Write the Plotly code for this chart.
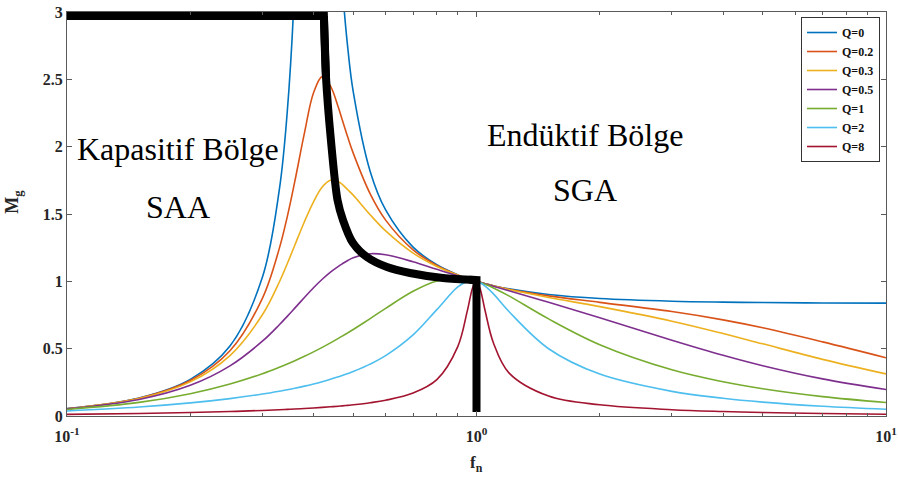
import plotly.graph_objects as go

# normalized frequency samples
fn = [0.1, 0.15, 0.2, 0.25, 0.3, 0.33, 0.345, 0.36, 0.38, 0.4,
      0.42, 0.44, 0.46, 0.47, 0.485, 0.5, 0.55, 0.6, 0.7, 0.8,
      0.9, 0.95, 0.98, 1.0, 1.02, 1.05, 1.1, 1.2, 1.5, 2,
      3, 4, 5, 7, 10]

m_q0 = [0.0547, 0.1339, 0.2719, 0.5198, 1.030, 1.681, 2.257, 3.236, 6.45, 40.0,
        11.1, 5.32, 3.652, 3.199, 2.731, 2.408, 1.816, 1.530, 1.254, 1.123,
        1.048, 1.021, 1.008, 1.0, 0.9925, 0.9821, 0.9672, 0.9438, 0.9022, 0.8724,
        0.8523, 0.8455, 0.8423, 0.8396, 0.8382]
m_q02 = [0.0543, 0.1319, 0.2631, 0.4842, 0.8734, 1.2446, 1.479, 1.742, 2.10, 2.40,
         2.52, 2.45, 2.29, 2.20, 2.07, 1.952, 1.650, 1.4546, 1.234, 1.1174,
         1.0469, 1.0212, 1.0080, 1.0, 0.9924, 0.9819, 0.9665, 0.9415, 0.8921, 0.8440,
         0.7759, 0.7140, 0.6550, 0.5505, 0.4326]
m_q03 = [0.0539, 0.1295, 0.2532, 0.4487, 0.7515, 0.9950, 1.1301, 1.2682, 1.4426, 1.59,
         1.70, 1.75, 1.74, 1.72, 1.68, 1.64, 1.4942, 1.3742, 1.2097, 1.1104,
         1.0456, 1.0210, 1.0080, 1.0, 0.9924, 0.9817, 0.9657, 0.9387, 0.8801, 0.8120,
         0.7042, 0.6126, 0.5358, 0.4207, 0.3124]
m_q05 = [0.0528, 0.1227, 0.2277, 0.3722, 0.5553, 0.6778, 0.7399, 0.8013, 0.8798, 0.9521,
         1.0155, 1.0688, 1.1115, 1.13, 1.155, 1.175, 1.205, 1.197, 1.145, 1.0889,
         1.0416, 1.0201, 1.0079, 1.0, 0.9922, 0.9810, 0.9631, 0.9299, 0.8445, 0.7300,
         0.5630, 0.4511, 0.3735, 0.2755, 0.1964]
m_q1 = [0.0481, 0.1009, 0.1654, 0.2373, 0.3140, 0.3617, 0.3858, 0.4102, 0.4430, 0.4762,
        0.5094, 0.5427, 0.5761, 0.5927, 0.6177, 0.6425, 0.7233, 0.7992, 0.9259, 1.0024,
        1.0231, 1.0159, 1.0072, 1.0, 0.9917, 0.9777, 0.9511, 0.8918, 0.7211, 0.5297,
        0.3432, 0.2543, 0.2022, 0.1437, 0.1003]
m_q2 = [0.0371, 0.0666, 0.0973, 0.1292, 0.1628, 0.1841, 0.1951, 0.2064, 0.2219, 0.2381,
        0.2549, 0.2724, 0.2908, 0.3002, 0.3150, 0.3302, 0.3853, 0.4481, 0.6020, 0.7899,
        0.9583, 0.9997, 1.0047, 1.0, 0.9894, 0.9646, 0.9073, 0.7760, 0.4996, 0.3114,
        0.1831, 0.1317, 0.1034, 0.0726, 0.0504]
m_q8 = [0.0123, 0.0190, 0.0259, 0.0333, 0.0412, 0.0463, 0.0489, 0.0517, 0.0555, 0.0595,
        0.0637, 0.0682, 0.0729, 0.0754, 0.0792, 0.0833, 0.0984, 0.1168, 0.1700, 0.2697,
        0.5155, 0.7827, 0.9584, 1.0, 0.9467, 0.7793, 0.5422, 0.3206, 0.1480, 0.0830,
        0.0468, 0.0333, 0.0260, 0.0182, 0.0126]

series_names = ["Q=0", "Q=0.2", "Q=0.3", "Q=0.5", "Q=1", "Q=2", "Q=8"]
series_vals = [m_q0, m_q02, m_q03, m_q05, m_q1, m_q2, m_q8]
colors = ["#0072BD", "#D95319", "#EDB120", "#7E2F8E", "#77AC30", "#4DBEEE", "#A2142F"]

# region boundary (thick black line): top edge, curved part, vertical drop
border_top_fn = [0.1, 0.424, 0.429]
border_top_m = [2.97, 2.97, 2.517]
border_curve_fn = [0.424, 0.429, 0.441, 0.4577, 0.472, 0.4993, 0.540, 0.6045, 0.688, 0.828, 1.0]
border_curve_m = [2.97, 2.517, 2.05, 1.604, 1.455, 1.284, 1.18, 1.106, 1.062, 1.025, 1.01]
border_drop_fn = [0.96, 1.0, 1.0]
border_drop_m = [1.012, 1.01, 0.03]

x_tickvals = [0.1, 1, 10]
x_ticktext = ["10<sup>-1</sup>", "10<sup>0</sup>", "10<sup>1</sup>"]
x_minor = [0.2, 0.3, 0.4, 0.5, 0.6, 0.7, 0.8, 0.9, 2, 3, 4, 5, 6, 7, 8, 9]
y_tickvals = [0, 0.5, 1, 1.5, 2, 2.5, 3]
y_ticktext = ["0", "0.5", "1", "1.5", "2", "2.5", "3"]

SERIF = "Liberation Serif, Times New Roman, serif"
AX = "#5a5a5a"

fig = go.Figure()
for name, vals, col in zip(series_names, series_vals, colors):
    fig.add_trace(go.Scatter(x=fn, y=vals, mode="lines", name=name,
                             line=dict(color=col, width=1.6, shape="spline", smoothing=1.0)))

fig.add_trace(go.Scatter(x=border_top_fn, y=border_top_m, mode="lines", showlegend=False,
                         hoverinfo="skip", line=dict(color="black", width=8)))
fig.add_trace(go.Scatter(x=border_curve_fn, y=border_curve_m, mode="lines", showlegend=False,
                         hoverinfo="skip",
                         line=dict(color="black", width=8, shape="spline", smoothing=0.8)))
fig.add_trace(go.Scatter(x=border_drop_fn, y=border_drop_m, mode="lines", showlegend=False,
                         hoverinfo="skip", line=dict(color="black", width=8)))

fig.update_layout(
    width=898, height=481,
    margin=dict(l=67, r=12, t=12, b=65),
    paper_bgcolor="white", plot_bgcolor="white",
    font=dict(family=SERIF, color="#262626"),
    legend=dict(x=0.9927, y=0.9876, xanchor="right", yanchor="top",
                bgcolor="white", bordercolor="#333", borderwidth=1,
                font=dict(family=SERIF, size=12, weight="bold", color="#111"),
                tracegroupgap=0, itemwidth=30),
    xaxis=dict(type="log", range=[-1, 1], tickvals=x_tickvals, ticktext=x_ticktext,
               ticks="inside", ticklen=5, tickcolor=AX, showline=True, linecolor=AX,
               linewidth=1, mirror="ticks", showgrid=False, zeroline=False,
               automargin=False, ticklabelstandoff=6,
               tickfont=dict(family=SERIF, size=16, weight="bold", color="#262626"),
               minor=dict(tickvals=x_minor, ticks="inside", ticklen=3, tickcolor=AX,
                          showgrid=False)),
    yaxis=dict(range=[0, 3], tickvals=y_tickvals, ticktext=y_ticktext,
               ticks="inside", ticklen=5, tickcolor=AX, showline=True, linecolor=AX,
               linewidth=1, mirror="ticks", showgrid=False, zeroline=False,
               automargin=False,
               tickfont=dict(family=SERIF, size=16, weight="bold", color="#262626")),
    annotations=[
        dict(text="M<sub>g</sub>", xref="paper", yref="paper", x=-0.065, y=0.53,
             xanchor="center", yanchor="middle", textangle=-90, showarrow=False,
             font=dict(family=SERIF, size=18, weight="bold", color="#262626")),
        dict(text="f<sub>n</sub>", xref="paper", yref="paper", x=0.4994, y=-0.12,
             xanchor="center", yanchor="middle", showarrow=False,
             font=dict(family=SERIF, size=17, weight="bold", color="#262626")),
        dict(text="Kapasitif Bölge", xref="paper", yref="paper", x=0.1355, y=0.661,
             xanchor="center", yanchor="middle",
             showarrow=False, font=dict(family=SERIF, size=32, color="black")),
        dict(text="SAA", xref="paper", yref="paper", x=0.1355, y=0.517,
             xanchor="center", yanchor="middle",
             showarrow=False, font=dict(family=SERIF, size=32, color="black")),
        dict(text="Endüktif Bölge", xref="paper", yref="paper", x=0.6325, y=0.6955,
             xanchor="center", yanchor="middle",
             showarrow=False, font=dict(family=SERIF, size=32, color="black")),
        dict(text="SGA", xref="paper", yref="paper", x=0.6325, y=0.559,
             xanchor="center", yanchor="middle",
             showarrow=False, font=dict(family=SERIF, size=32, color="black")),
    ],
)

fig.write_html("out.html", config={"displayModeBar": False},
               post_script="document.body.style.margin='0';")
